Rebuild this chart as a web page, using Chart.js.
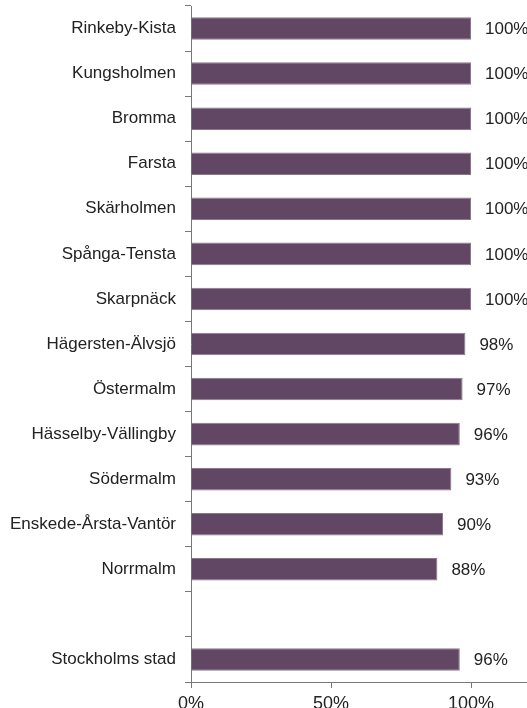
<!DOCTYPE html>
<html>
<head>
<meta charset="utf-8">
<style>
  html, body { margin: 0; padding: 0; background: #fff; }
</style>
</head>
<body>
<canvas id="myChart" width="527" height="708"></canvas>
<script src="https://cdn.jsdelivr.net/npm/chart.js"></script>
<script>

const districts = [
  'Rinkeby-Kista', 'Kungsholmen', 'Bromma', 'Farsta', 'Skärholmen',
  'Spånga-Tensta', 'Skarpnäck', 'Hägersten-Älvsjö', 'Östermalm',
  'Hässelby-Vällingby', 'Södermalm', 'Enskede-Årsta-Vantör', 'Norrmalm',
  '', 'Stockholms stad'
];
const shares = [100, 100, 100, 100, 100, 100, 100, 98, 97, 96, 93, 90, 88, null, 96];
const axisTicks = [0, 50, 100];

const FONT = '"Liberation Sans", Arial, sans-serif';

// draws the "xx%" text to the right of each bar
const valueLabels = {
  id: 'valueLabels',
  afterDatasetsDraw(chart) {
    const ctx = chart.ctx;
    const meta = chart.getDatasetMeta(0);
    ctx.save();
    ctx.font = '17px ' + FONT;
    ctx.fillStyle = '#222';
    ctx.textAlign = 'left';
    ctx.textBaseline = 'middle';
    meta.data.forEach(function(bar, i) {
      const v = shares[i];
      if (v == null) return;
      ctx.fillText(v + '%', bar.x + 14, bar.y + 1);
    });
    ctx.restore();
  }
};

const config = {
  type: 'bar',
  data: {
    labels: districts,
    datasets: [{
      data: shares,
      backgroundColor: '#614763',
      borderColor: '#8a778b',
      borderWidth: 1,
      barPercentage: 0.5,
      categoryPercentage: 1
    }]
  },
  options: {
    indexAxis: 'y',
    responsive: false,
    animation: false,
    layout: { padding: { top: 6, left: 0, right: 0, bottom: 0 } },
    plugins: {
      legend: { display: false },
      tooltip: { enabled: false }
    },
    scales: {
      x: {
        type: 'linear',
        min: 0,
        max: 120,
        afterBuildTicks: function(scale) {
          scale.ticks = axisTicks.map(function(v) { return { value: v }; });
        },
        afterFit: function(scale) {
          scale.height = 26;
          scale.paddingLeft = 0;
          scale.paddingRight = 0;
        },
        grid: { drawOnChartArea: false, tickLength: 6, color: '#777' },
        border: { color: '#777' },
        ticks: {
          padding: 5,
          color: '#222',
          font: { family: FONT, size: 18 },
          callback: function(v) { return v + '%'; }
        }
      },
      y: {
        afterFit: function(scale) {
          scale.width = 191;
          scale.paddingTop = 0;
          scale.paddingBottom = 0;
        },
        grid: { drawOnChartArea: false, tickLength: 6, color: '#777', offset: true },
        border: { color: '#777' },
        ticks: {
          padding: 9,
          color: '#222',
          autoSkip: false,
          font: { family: FONT, size: 17 }
        }
      }
    }
  },
  plugins: [valueLabels]
};

var chart = new Chart('myChart', config);

</script>
</body>
</html>
